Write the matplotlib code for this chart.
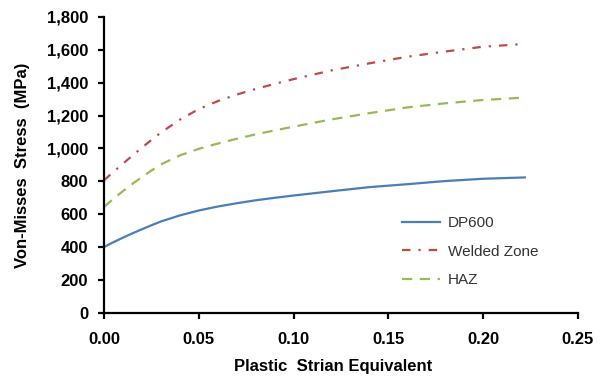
import matplotlib
matplotlib.use("Agg")
import matplotlib.pyplot as plt
from matplotlib.ticker import FuncFormatter, MultipleLocator

plt.rcParams['font.family'] = ['Liberation Sans', 'DejaVu Sans']

# plastic strain equivalent and flow stress (MPa) for each zone
strain = [0.0, 0.005, 0.01, 0.015, 0.02, 0.025, 0.03, 0.04, 0.05, 0.06,
          0.07, 0.08, 0.09, 0.10, 0.12, 0.14, 0.16, 0.18, 0.20, 0.222]
dp600 = [401, 430, 458, 484, 509, 533, 556, 593, 623, 647,
         667, 685, 700, 714, 740, 765, 783, 802, 816, 824]
welded = [807, 858, 908, 957, 1005, 1052, 1097, 1175, 1240, 1288,
          1328, 1362, 1393, 1422, 1475, 1518, 1558, 1590, 1619, 1636]
haz = [645, 694, 741, 785, 826, 866, 903, 958, 998, 1030,
       1059, 1086, 1110, 1133, 1177, 1215, 1250, 1275, 1295, 1310]

x_ticks = [0.00, 0.05, 0.10, 0.15, 0.20, 0.25]

fig = plt.figure(figsize=(6.03, 3.77), dpi=100)
ax = fig.add_axes([0.1725, 0.170, 0.786, 0.785])

ax.plot(strain, dp600, color='#4a7ebb', lw=1.6, label='DP600')
ax.plot(strain, welded, color='#be4b48', lw=1.6, linestyle=(0, (3.8, 3.6, 1.0, 3.6)),
        label='Welded Zone')
ax.plot(strain, haz, color='#98b954', lw=1.6, linestyle=(0, (4.6, 3.4)), label='HAZ')

ax.set_xlim(0, 0.25)
ax.set_ylim(0, 1800)
ax.set_xticks(x_ticks)
ax.yaxis.set_major_locator(MultipleLocator(200))
ax.xaxis.set_major_formatter(FuncFormatter(lambda v, p: f'{v:.2f}'))
ax.yaxis.set_major_formatter(FuncFormatter(lambda v, p: f'{v:,.0f}'))

for side in ['top', 'right']:
    ax.spines[side].set_visible(False)
for side in ['left', 'bottom']:
    ax.spines[side].set_linewidth(1.6)
    ax.spines[side].set_color('black')

ax.tick_params(axis='both', direction='out', length=4, width=1.6, labelsize=12)
ax.tick_params(axis='y', pad=7.5)
ax.tick_params(axis='x', pad=10)
for lbl in ax.get_xticklabels() + ax.get_yticklabels():
    lbl.set_fontweight('bold')

ax.set_xlabel('Plastic  Strian Equivalent', fontsize=12, fontweight='bold', labelpad=9)
ax.xaxis.set_label_coords(0.483, -0.155)
ax.set_ylabel('Von-Misses  Stress  (MPa)', fontsize=12, fontweight='bold', labelpad=12)

ax.legend(loc='lower left', bbox_to_anchor=(0.6, 0.04), frameon=False, fontsize=11,
          handlelength=2.5, handletextpad=0.5, labelspacing=0.95, labelcolor='#333333')

fig.savefig('out.png', dpi=100)
